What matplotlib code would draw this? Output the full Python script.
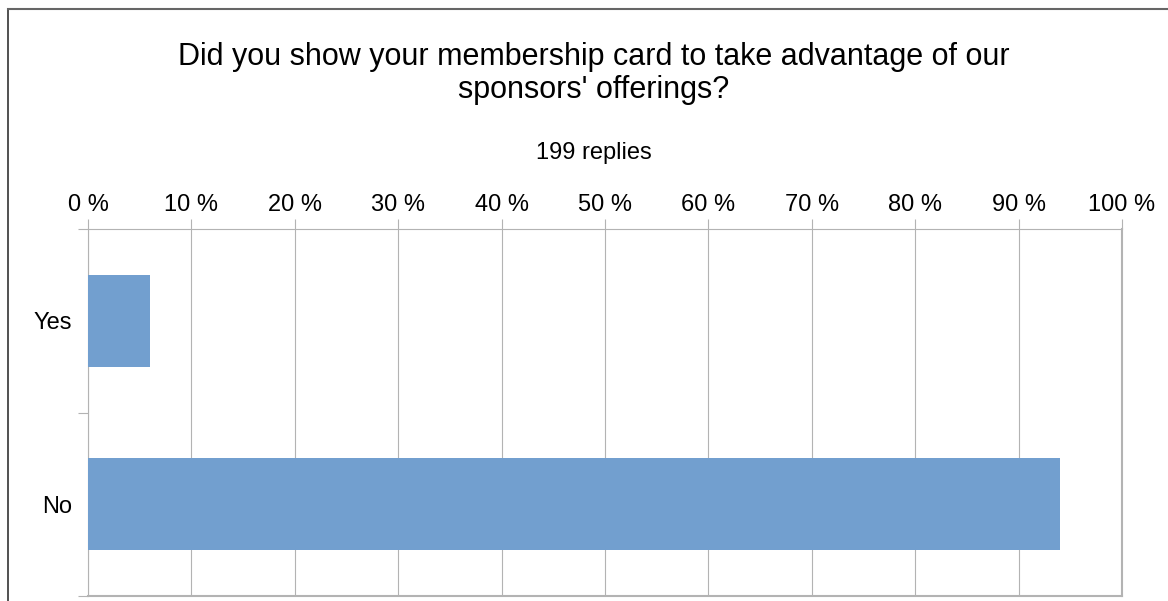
import matplotlib
matplotlib.use("Agg")
import matplotlib.pyplot as plt
import matplotlib.ticker as ticker
from matplotlib.lines import Line2D

# Data
categories = ["Yes", "No"]
replies = [12, 187]
total = 199
title_lines = ["Did you show your membership card to take advantage of our",
               "sponsors' offerings?"]
subtitle = "199 replies"

percent = [100.0 * r / total for r in replies]

plt.rcParams['font.family'] = ['Liberation Sans', 'DejaVu Sans']

W, H = 1168, 601
fig = plt.figure(figsize=(W / 100, H / 100), dpi=100)
fig.patch.set_facecolor('white')

# plot area in pixels: x 88..1122, y 229..596
ax = fig.add_axes([88 / W, 1 - 596 / H, (1122 - 88) / W, (596 - 229) / H])

grid_c = '#b3b3b3'
bar_c = '#729fcf'

pos = [i + 0.5 for i in range(len(categories))]
ax.barh(pos, percent, height=0.5, color=bar_c, zorder=3)

ax.set_xlim(0, 100)
ax.set_ylim(len(categories), 0)

ax.xaxis.tick_top()
ax.xaxis.set_major_locator(ticker.MultipleLocator(10))
ax.xaxis.set_major_formatter(ticker.FuncFormatter(lambda v, p: f"{v:.0f} %"))
ax.tick_params(axis='x', which='major', direction='out', length=7.2, width=0.8,
               color=grid_c, labelsize=17, pad=2, labelcolor='black')
ax.grid(axis='x', color=grid_c, linewidth=0.8, zorder=0)

ax.yaxis.set_major_locator(ticker.FixedLocator([0, 1, 2]))
ax.yaxis.set_major_formatter(ticker.NullFormatter())
ax.yaxis.set_minor_locator(ticker.FixedLocator(pos))
ax.yaxis.set_minor_formatter(ticker.FixedFormatter(categories))
ax.tick_params(axis='y', which='major', direction='out', length=7.2, width=0.8, color=grid_c)
ax.tick_params(axis='y', which='minor', length=0, labelsize=17, pad=11.5, labelcolor='black')

for s in ax.spines.values():
    s.set_color(grid_c)
    s.set_linewidth(0.8)
ax.spines['right'].set_linewidth(1.5)
ax.spines['bottom'].set_linewidth(1.5)

# title and subtitle
fig.text(594 / W, 1 - 57 / H, title_lines[0], ha='center', va='center', fontsize=22)
fig.text(594 / W, 1 - 90 / H, title_lines[1], ha='center', va='center', fontsize=22)
fig.text(594 / W, 1 - 153 / H, subtitle, ha='center', va='center', fontsize=17)

# chart border (cropped at right/bottom)
fig.add_artist(Line2D([7.5 / W, 7.5 / W], [0, 1 - 8.5 / H], transform=fig.transFigure,
                      color='#333333', linewidth=1.2))
fig.add_artist(Line2D([7.5 / W, 1], [1 - 8.5 / H, 1 - 8.5 / H], transform=fig.transFigure,
                      color='#666666', linewidth=1.5))

fig.savefig("out.png", dpi=100)
